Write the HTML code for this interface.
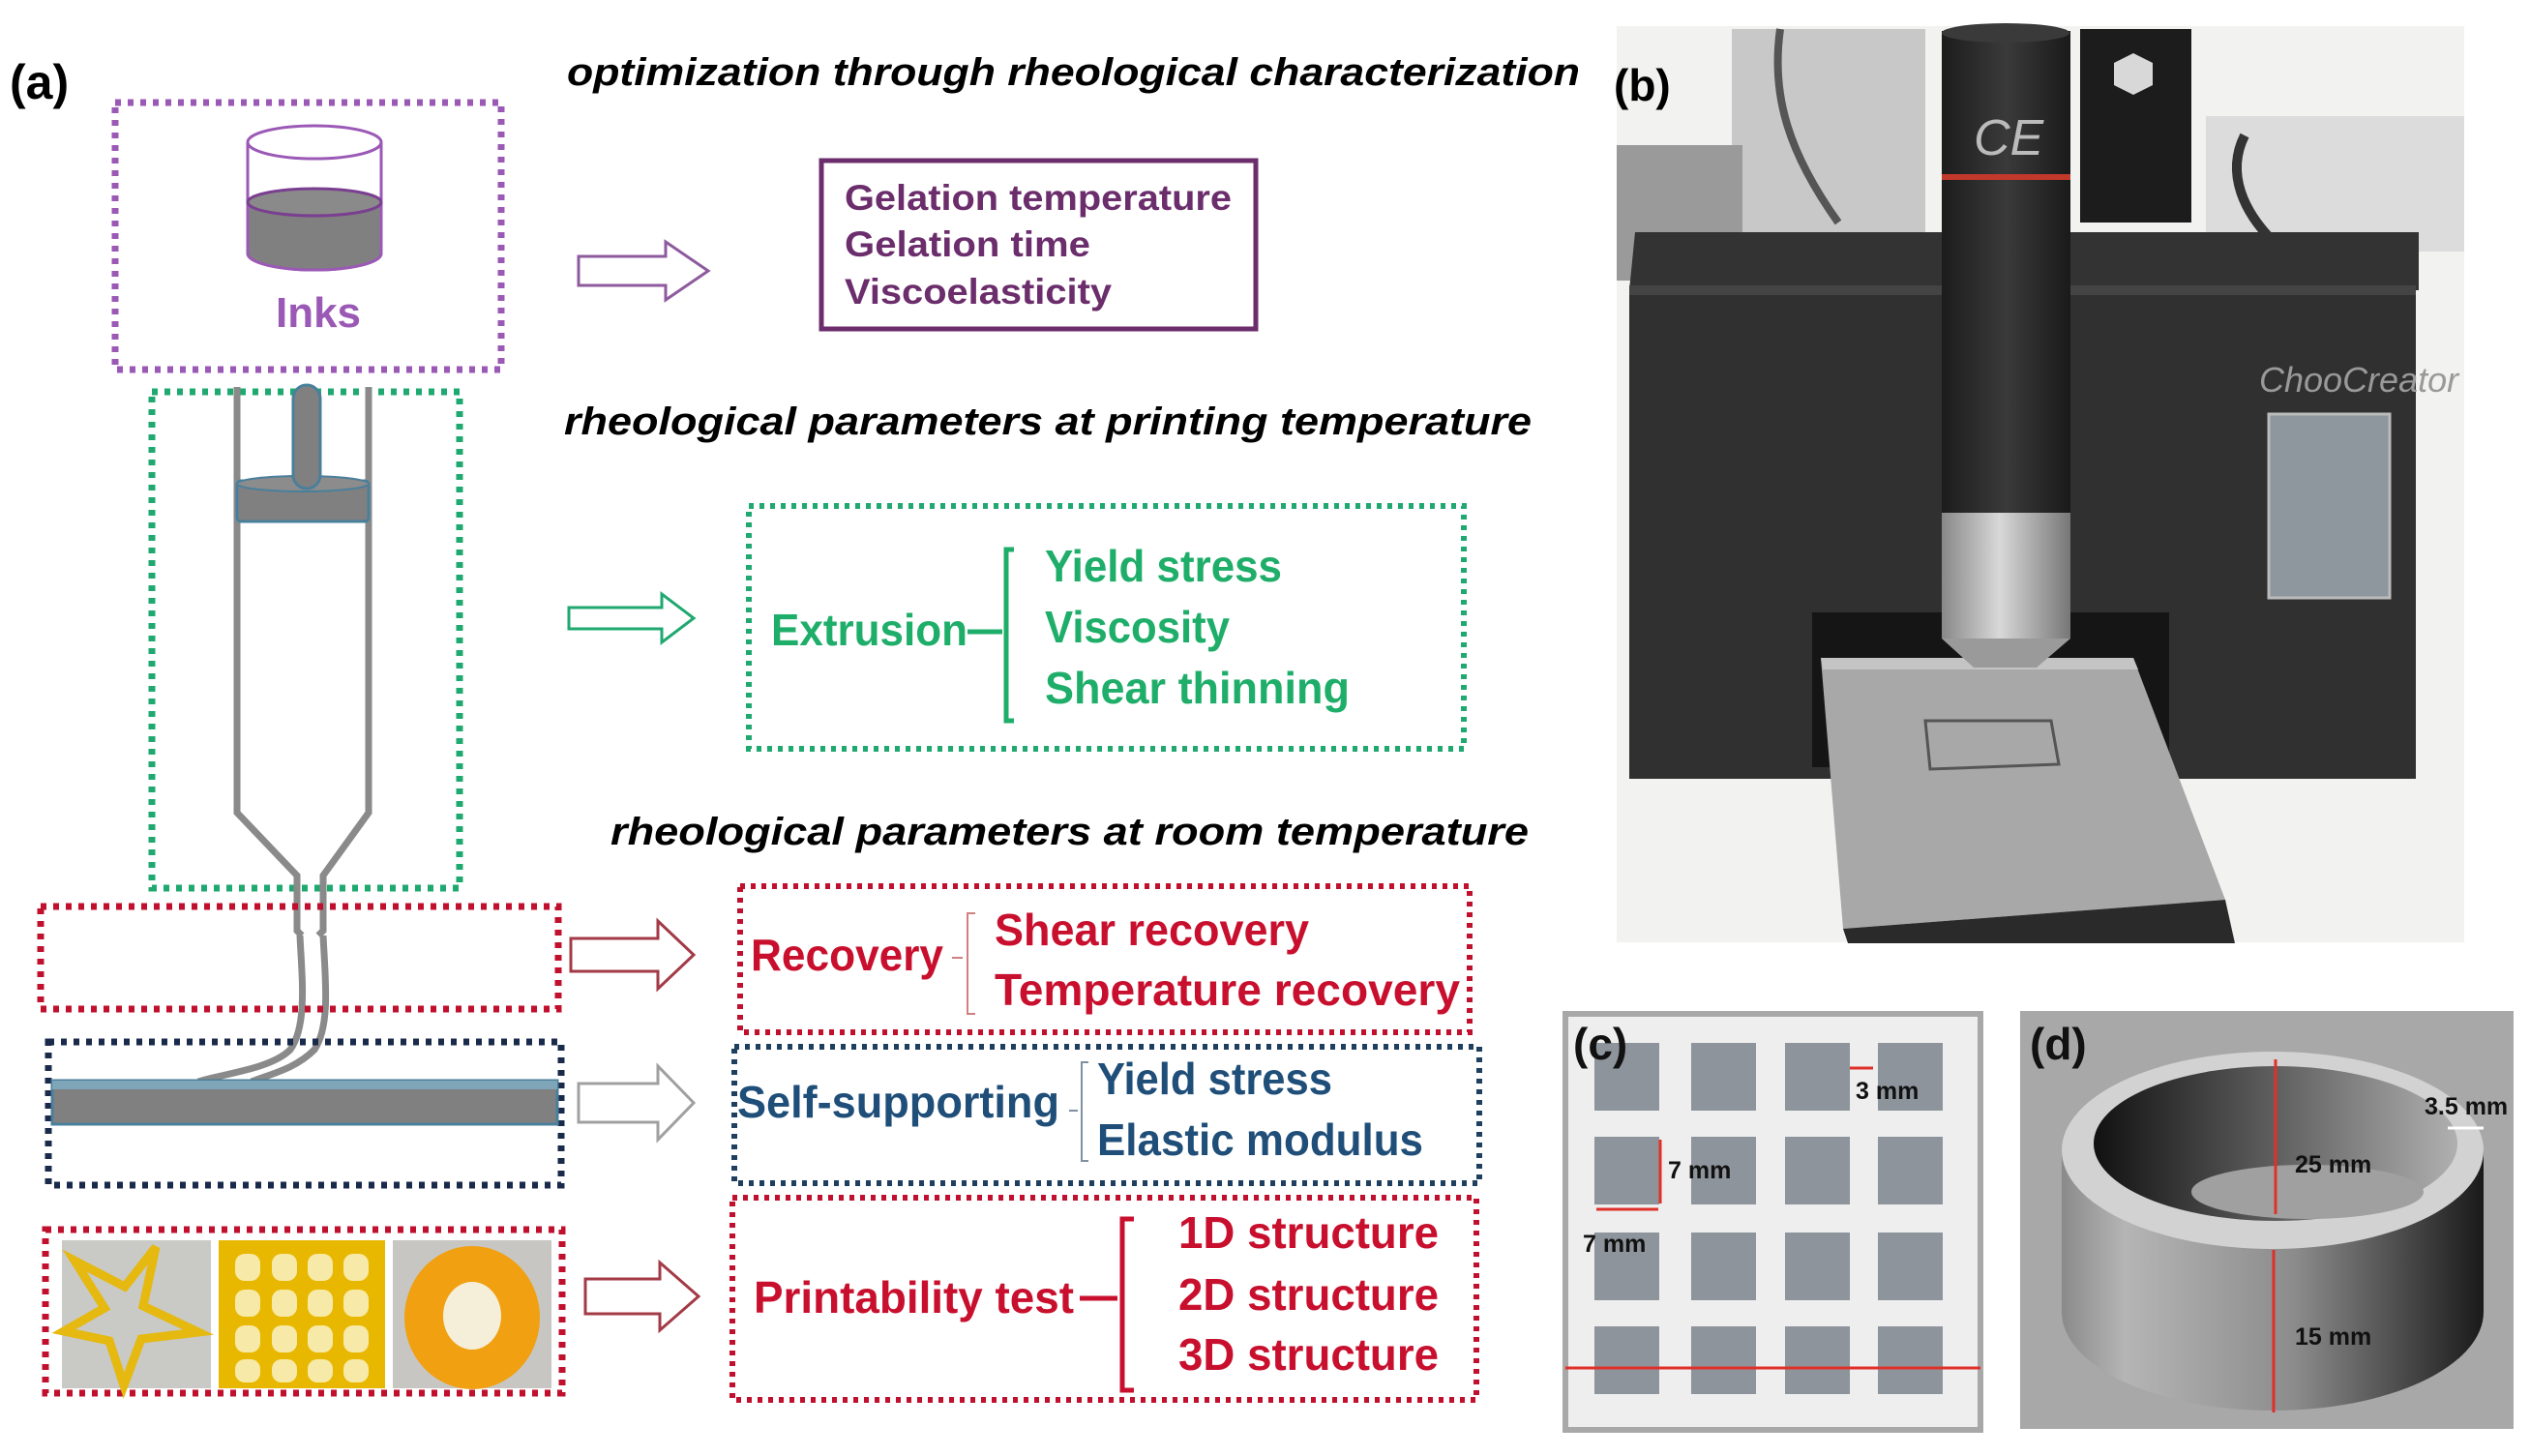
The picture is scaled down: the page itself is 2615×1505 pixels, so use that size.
<!DOCTYPE html>
<html><head><meta charset="utf-8"><style>
html,body{margin:0;padding:0;background:#fff;width:2615px;height:1505px;overflow:hidden}
svg{display:block}
text{font-family:"Liberation Sans",sans-serif;font-weight:bold}
</style></head><body>
<svg width="2615" height="1505" viewBox="0 0 2615 1505" xmlns="http://www.w3.org/2000/svg">
<defs>
<linearGradient id="ringside" x1="0" x2="1" y1="0" y2="0">
<stop offset="0" stop-color="#8a8a8a"/><stop offset="0.15" stop-color="#b5b5b5"/><stop offset="0.55" stop-color="#8c8c8c"/><stop offset="1" stop-color="#1a1a1a"/></linearGradient>
<linearGradient id="ringin" x1="0" x2="1" y1="0" y2="0">
<stop offset="0" stop-color="#111"/><stop offset="0.6" stop-color="#6f6f6f"/><stop offset="1" stop-color="#b0b0b0"/></linearGradient>
<linearGradient id="cyl" x1="0" x2="1"><stop offset="0" stop-color="#1c1c1c"/><stop offset="0.5" stop-color="#3a3a3a"/><stop offset="1" stop-color="#1a1a1a"/></linearGradient>
<linearGradient id="silver" x1="0" x2="1"><stop offset="0" stop-color="#888"/><stop offset="0.45" stop-color="#d8d8d8"/><stop offset="1" stop-color="#777"/></linearGradient>
</defs>

<!-- (a) -->
<text x="10" y="102" font-size="50">(a)</text>
<text x="586" y="88" font-size="40" font-style="italic" textLength="1047" lengthAdjust="spacingAndGlyphs">optimization through rheological characterization</text>

<rect x="119" y="106" width="399" height="276" fill="none" stroke="#9b59b6" stroke-width="7" stroke-dasharray="6 7"/>
<path d="M256 147 L256 262 A69 17 0 0 0 394 262 L394 147" fill="none" stroke="#9b59b6" stroke-width="3"/>
<path d="M256 209 L256 262 A69 17 0 0 0 394 262 L394 209 Z" fill="#808080" stroke="#9b59b6" stroke-width="3"/>
<ellipse cx="325" cy="209" rx="69" ry="14" fill="#8a8a8a" stroke="#7a3f90" stroke-width="3"/>
<ellipse cx="325" cy="147" rx="69" ry="17" fill="#fff" stroke="#9b59b6" stroke-width="3"/>
<text x="285" y="338" font-size="44" fill="#9b59b6" textLength="88" lengthAdjust="spacingAndGlyphs">Inks</text>

<path d="M598 265 H688 V250 L732 280 L688 310 V295 H598 Z" fill="#fff" stroke="#8e5a9e" stroke-width="3"/>
<rect x="849" y="166" width="449" height="174" fill="none" stroke="#6b2d6b" stroke-width="5"/>
<g font-size="37" fill="#6b2d6b">
<text x="873" y="217" textLength="400" lengthAdjust="spacingAndGlyphs">Gelation temperature</text>
<text x="873" y="265" textLength="254" lengthAdjust="spacingAndGlyphs">Gelation time</text>
<text x="873" y="314" textLength="276" lengthAdjust="spacingAndGlyphs">Viscoelasticity</text>
</g>

<text x="583" y="449" font-size="40" font-style="italic" textLength="1000" lengthAdjust="spacingAndGlyphs">rheological parameters at printing temperature</text>

<rect x="157" y="405" width="318" height="513" fill="none" stroke="#1fa870" stroke-width="7" stroke-dasharray="6 7"/>
<g fill="none" stroke="#8a8a8a" stroke-width="7">
<path d="M245 400 V840 L307 905 V962 L312 967"/>
<path d="M381 400 V840 L334 905 V962 L329 967"/>
<path d="M310 967 C312 1010 318 1060 300 1085 C280 1105 230 1110 205 1118"/>
<path d="M334 967 C336 1010 342 1060 325 1085 C305 1105 280 1110 260 1118"/>
</g>
<rect x="245" y="497" width="136" height="42" rx="4" fill="#808080" stroke="#4a7f9b" stroke-width="3"/>
<ellipse cx="313" cy="500" rx="68" ry="8" fill="#8c8c8c" stroke="#4a7f9b" stroke-width="2"/>
<rect x="303" y="398" width="28" height="107" rx="14" fill="#808080" stroke="#4a7f9b" stroke-width="3"/>

<path d="M588 628 H684 V614 L717 639 L684 664 V650 H588 Z" fill="#fff" stroke="#1fa870" stroke-width="3"/>
<rect x="774" y="523" width="739" height="251" fill="none" stroke="#1fa870" stroke-width="6" stroke-dasharray="5 6"/>
<g fill="#1fae6a" font-size="46">
<text x="797" y="667" textLength="203" lengthAdjust="spacingAndGlyphs">Extrusion</text>
<text x="1080" y="601" textLength="245" lengthAdjust="spacingAndGlyphs">Yield stress</text>
<text x="1080" y="664" textLength="191" lengthAdjust="spacingAndGlyphs">Viscosity</text>
<text x="1080" y="727" textLength="315" lengthAdjust="spacingAndGlyphs">Shear thinning</text>
</g>
<path d="M1000 653 H1036 M1048 568 H1040 V745 H1048" fill="none" stroke="#1fae6a" stroke-width="5"/>

<text x="631" y="873" font-size="40" font-style="italic" textLength="949" lengthAdjust="spacingAndGlyphs">rheological parameters at room temperature</text>

<rect x="42" y="937" width="535" height="106" fill="none" stroke="#c0102e" stroke-width="7" stroke-dasharray="6 7"/>
<path d="M590 970 H680 V952 L717 987 L680 1022 V1004 H590 Z" fill="#fff" stroke="#a33a45" stroke-width="3"/>
<rect x="765" y="916" width="754" height="151" fill="none" stroke="#c0102e" stroke-width="6" stroke-dasharray="5 6"/>
<g fill="#c8102e" font-size="46">
<text x="776" y="1003" textLength="199" lengthAdjust="spacingAndGlyphs">Recovery</text>
<text x="1028" y="977" textLength="325" lengthAdjust="spacingAndGlyphs">Shear recovery</text>
<text x="1028" y="1039" textLength="481" lengthAdjust="spacingAndGlyphs">Temperature recovery</text>
</g>
<path d="M984 990 H995 M1008 944 H1000 V1048 H1008" fill="none" stroke="#d08080" stroke-width="2"/>

<rect x="50" y="1077" width="530" height="148" fill="none" stroke="#1a2a4a" stroke-width="7" stroke-dasharray="6 7"/>
<rect x="54" y="1117" width="522" height="45" fill="#808080" stroke="#4a7f9b" stroke-width="3"/>
<rect x="54" y="1117" width="522" height="9" fill="#7fa5b8"/>
<path d="M598 1120 H680 V1102 L717 1140 L680 1178 V1160 H598 Z" fill="#fff" stroke="#a0a0a0" stroke-width="3"/>
<rect x="759" y="1082" width="770" height="141" fill="none" stroke="#1f3f60" stroke-width="6" stroke-dasharray="5 6"/>
<g fill="#1f4e79" font-size="46">
<text x="762" y="1155" textLength="333" lengthAdjust="spacingAndGlyphs">Self-supporting</text>
<text x="1134" y="1131" textLength="243" lengthAdjust="spacingAndGlyphs">Yield stress</text>
<text x="1134" y="1194" textLength="337" lengthAdjust="spacingAndGlyphs">Elastic modulus</text>
</g>
<path d="M1105 1148 H1114 M1125 1098 H1118 V1200 H1125" fill="none" stroke="#8090a0" stroke-width="2"/>

<rect x="47" y="1271" width="534" height="169" fill="none" stroke="#c0102e" stroke-width="7" stroke-dasharray="6 7"/>
<rect x="64" y="1282" width="154" height="153" fill="#c9c9c6"/>
<path d="M161 1289 L148 1350 L205 1377 L146 1384 L128 1432 L113 1386 L66 1376 L108 1352 L77 1303 L129 1330 Z" fill="none" stroke="#e5b90f" stroke-width="9"/>
<rect x="226" y="1282" width="172" height="153" fill="#e8b800"/>
<g fill="#f7e9a8">
<rect x="243" y="1296" width="26" height="28" rx="10"/><rect x="281" y="1296" width="26" height="28" rx="10"/><rect x="318" y="1296" width="26" height="28" rx="10"/><rect x="355" y="1296" width="26" height="28" rx="10"/>
<rect x="243" y="1333" width="26" height="28" rx="10"/><rect x="281" y="1333" width="26" height="28" rx="10"/><rect x="318" y="1333" width="26" height="28" rx="10"/><rect x="355" y="1333" width="26" height="28" rx="10"/>
<rect x="243" y="1370" width="26" height="28" rx="10"/><rect x="281" y="1370" width="26" height="28" rx="10"/><rect x="318" y="1370" width="26" height="28" rx="10"/><rect x="355" y="1370" width="26" height="28" rx="10"/>
<rect x="243" y="1405" width="26" height="24" rx="10"/><rect x="281" y="1405" width="26" height="24" rx="10"/><rect x="318" y="1405" width="26" height="24" rx="10"/><rect x="355" y="1405" width="26" height="24" rx="10"/>
</g>
<rect x="406" y="1282" width="164" height="153" fill="#c8c6c2"/>
<ellipse cx="488" cy="1362" rx="70" ry="74" fill="#f0a010"/>
<ellipse cx="488" cy="1360" rx="30" ry="35" fill="#f5eed8"/>
<path d="M605 1322 H682 V1305 L722 1340 L682 1375 V1358 H605 Z" fill="#fff" stroke="#a33a45" stroke-width="3"/>
<rect x="757" y="1238" width="769" height="209" fill="none" stroke="#c0102e" stroke-width="6" stroke-dasharray="5 6"/>
<g fill="#c8102e" font-size="46">
<text x="779" y="1357" textLength="331" lengthAdjust="spacingAndGlyphs">Printability test</text>
<text x="1218" y="1290" textLength="269" lengthAdjust="spacingAndGlyphs">1D structure</text>
<text x="1218" y="1354" textLength="269" lengthAdjust="spacingAndGlyphs">2D structure</text>
<text x="1218" y="1416" textLength="269" lengthAdjust="spacingAndGlyphs">3D structure</text>
</g>
<path d="M1116 1342 H1155 M1172 1260 H1160 V1437 H1172" fill="none" stroke="#c8102e" stroke-width="5"/>

<!-- (b) photo -->
<rect x="1671" y="27" width="876" height="947" fill="#f2f2f0"/>
<rect x="1790" y="30" width="200" height="210" fill="#c8c8c8"/>
<rect x="2150" y="30" width="115" height="200" fill="#1c1c1c"/>
<polygon points="2205,55 2225,65 2225,88 2205,98 2185,88 2185,65" fill="#d8d8d8"/>
<rect x="2280" y="120" width="267" height="140" fill="#dcdcdc"/>
<rect x="1671" y="150" width="130" height="140" fill="#9a9a9a"/>
<path d="M1840 30 C1830 100 1850 160 1900 230" fill="none" stroke="#555" stroke-width="8"/>
<path d="M2320 140 C2300 180 2320 220 2350 250" fill="none" stroke="#333" stroke-width="10"/>
<polygon points="1690,240 2500,240 2500,300 1684,300" fill="#333"/>
<rect x="1684" y="295" width="813" height="510" fill="#303030"/>
<rect x="1684" y="295" width="813" height="10" fill="#444"/>
<rect x="1873" y="633" width="369" height="160" fill="#151515"/>
<polygon points="1882,680 2205,680 2300,930 1905,960" fill="#a8a8a8"/>
<polygon points="1882,680 2205,680 2210,692 1884,692" fill="#c4c4c4"/>
<polygon points="1990,745 2120,745 2128,790 1995,795" fill="none" stroke="#555" stroke-width="3"/>
<polygon points="1905,960 2300,930 2310,975 1910,975" fill="#2a2a2a"/>
<rect x="2345" y="428" width="125" height="190" fill="#8e979e" stroke="#bbb" stroke-width="3"/>
<text x="2335" y="405" font-size="36" font-style="italic" fill="#999" font-family="Liberation Serif" style="font-weight:normal">ChooCreator</text>
<rect x="2007" y="32" width="133" height="500" fill="url(#cyl)"/>
<ellipse cx="2073" cy="34" rx="66" ry="10" fill="#3a3a3a"/>
<rect x="2007" y="180" width="133" height="6" fill="#c0392b"/>
<text x="2040" y="160" font-size="52" font-style="italic" font-family="Liberation Serif" fill="#bbb" style="font-weight:normal">CE</text>
<rect x="2007" y="530" width="133" height="130" fill="url(#silver)"/>
<polygon points="2007,660 2140,660 2105,690 2040,690" fill="#9a9a9a"/>
<text x="1668" y="104" font-size="46" fill="#000">(b)</text>

<!-- (c) -->
<rect x="1618" y="1048" width="429" height="430" fill="#eeeeee" stroke="#a8a8a8" stroke-width="6"/>
<g fill="#8d949b">
<rect x="1648" y="1078" width="67" height="70"/><rect x="1748" y="1078" width="67" height="70"/><rect x="1845" y="1078" width="67" height="70"/><rect x="1941" y="1078" width="67" height="70"/>
<rect x="1648" y="1175" width="67" height="70"/><rect x="1748" y="1175" width="67" height="70"/><rect x="1845" y="1175" width="67" height="70"/><rect x="1941" y="1175" width="67" height="70"/>
<rect x="1648" y="1274" width="67" height="70"/><rect x="1748" y="1274" width="67" height="70"/><rect x="1845" y="1274" width="67" height="70"/><rect x="1941" y="1274" width="67" height="70"/>
<rect x="1648" y="1371" width="67" height="70"/><rect x="1748" y="1371" width="67" height="70"/><rect x="1845" y="1371" width="67" height="70"/><rect x="1941" y="1371" width="67" height="70"/>
</g>
<g stroke="#e0302a" stroke-width="3">
<line x1="1618" y1="1414" x2="2047" y2="1414"/>
<line x1="1912" y1="1104" x2="1936" y2="1104"/>
<line x1="1716" y1="1178" x2="1716" y2="1244"/>
<line x1="1650" y1="1250" x2="1714" y2="1250"/>
</g>
<text x="1626" y="1095" font-size="46" fill="#111">(c)</text>
<g font-size="25" fill="#111">
<text x="1918" y="1136">3 mm</text>
<text x="1724" y="1218">7 mm</text>
<text x="1636" y="1294">7 mm</text>
</g>

<!-- (d) -->
<rect x="2088" y="1045" width="510" height="432" fill="#a8a8a8"/>
<path d="M2131 1189 V1356 A218 102 0 0 0 2567 1356 V1189 Z" fill="url(#ringside)"/>
<ellipse cx="2349" cy="1189" rx="218" ry="102" fill="#d2d2d2"/>
<ellipse cx="2352" cy="1182" rx="188" ry="80" fill="url(#ringin)"/>
<ellipse cx="2385" cy="1232" rx="120" ry="28" fill="#a0a0a0"/>
<g stroke="#e0302a" stroke-width="3">
<line x1="2352" y1="1095" x2="2352" y2="1255"/>
<line x1="2350" y1="1292" x2="2350" y2="1460"/>
</g>
<line x1="2530" y1="1166" x2="2567" y2="1166" stroke="#fff" stroke-width="3"/>
<text x="2098" y="1095" font-size="46" fill="#111">(d)</text>
<g font-size="25" fill="#111">
<text x="2372" y="1212">25 mm</text>
<text x="2372" y="1390">15 mm</text>
<text x="2506" y="1152">3.5 mm</text>
</g>
</svg>
</body></html>
